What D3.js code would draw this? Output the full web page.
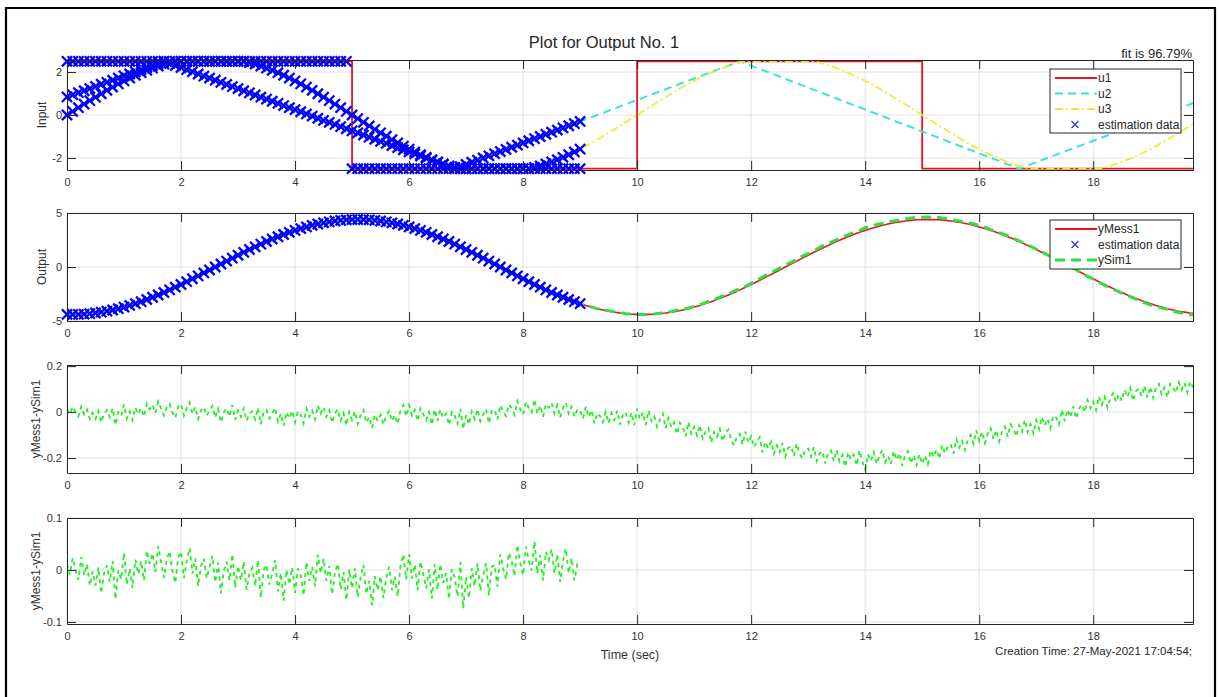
<!DOCTYPE html>
<html>
<head>
<meta charset="utf-8">
<script src="https://cdn.jsdelivr.net/npm/d3@7"></script>
<style>
  body { margin: 0; background: #fff; }
  svg text { font-family: "Liberation Sans", Arial, Helvetica, sans-serif; }
  .axis path, .axis line { stroke: #262626; }
  .axis text { fill: #333; font-size: 11px; font-family: "Liberation Sans", Arial, sans-serif; }
</style>
</head>
<body>
<div id="chart"></div>
<script>
// ---- data ----
// signals sampled every 0.1 s, residual every 0.05 s
var dt = 0.1;
var dtRes = 0.05;
var estEnd = 9;   // estimation data runs 0..9 s

// u1: square wave, level starts at each time
var u1Times = [0, 5, 10, 15];
var u1Levels = [2.5, -2.5, 2.5, -2.5];

// u2: triangle wave
var u2 = [0.84, 0.94, 1.04, 1.13, 1.23, 1.33, 1.43, 1.52, 1.62, 1.72, 1.82, 1.91, 2.01, 2.11, 2.21, 2.30, 2.40, 2.50,
  2.40, 2.30, 2.21, 2.11, 2.01, 1.91, 1.81, 1.72, 1.62, 1.52, 1.42, 1.32, 1.23, 1.13, 1.03, 0.93, 0.83, 0.74, 0.64, 0.54,
  0.44, 0.34, 0.25, 0.15, 0.05, -0.05, -0.15, -0.25, -0.34, -0.44, -0.54, -0.64, -0.74, -0.83, -0.93, -1.03, -1.13, -1.23,
  -1.32, -1.42, -1.52, -1.62, -1.72, -1.81, -1.91, -2.01, -2.11, -2.21, -2.30, -2.40, -2.50,
  -2.4, -2.3, -2.2, -2.1, -2.0, -1.9, -1.8, -1.7, -1.6, -1.5, -1.4, -1.3, -1.2, -1.1, -1.0, -0.9, -0.8, -0.7, -0.6, -0.5,
  -0.4, -0.3, -0.2, -0.1, 0, 0.1, 0.2, 0.3, 0.4, 0.5, 0.6, 0.7, 0.8, 0.9, 1.0, 1.1, 1.2, 1.3, 1.4, 1.5,
  1.6, 1.7, 1.8, 1.9, 2.0, 2.1, 2.2, 2.3, 2.4, 2.5,
  2.40, 2.30, 2.19, 2.09, 1.99, 1.89, 1.79, 1.68, 1.58, 1.48, 1.38, 1.28, 1.17, 1.07, 0.97, 0.87, 0.77, 0.66, 0.56, 0.46,
  0.36, 0.26, 0.15, 0.05, -0.05, -0.15, -0.26, -0.36, -0.46, -0.56, -0.66, -0.77, -0.87, -0.97, -1.07, -1.17, -1.28, -1.38,
  -1.48, -1.58, -1.68, -1.79, -1.89, -1.99, -2.09, -2.19, -2.30, -2.40, -2.50,
  -2.4, -2.3, -2.2, -2.1, -2.0, -1.9, -1.8, -1.7, -1.6, -1.5, -1.4, -1.3, -1.2, -1.1, -1.0, -0.9, -0.8, -0.7, -0.6, -0.5,
  -0.4, -0.3, -0.2, -0.1, 0, 0.1, 0.2, 0.3, 0.4, 0.5, 0.6];

// u3: sine, flat at +-2.5
var u3 = [0, 0.17, 0.34, 0.51, 0.67, 0.83, 0.99, 1.15, 1.30, 1.45, 1.59, 1.72, 1.85, 1.97, 2.08, 2.18, 2.28, 2.37, 2.44, 2.50,
  2.50, 2.50, 2.50, 2.50, 2.50, 2.50, 2.50, 2.50, 2.50, 2.50, 2.50, 2.50, 2.44, 2.37, 2.28, 2.18, 2.08, 1.97, 1.85, 1.72,
  1.59, 1.45, 1.30, 1.15, 0.99, 0.83, 0.67, 0.51, 0.34, 0.17,
  0, -0.17, -0.34, -0.51, -0.67, -0.83, -0.99, -1.15, -1.30, -1.45, -1.59, -1.72, -1.85, -1.97, -2.08, -2.18, -2.28, -2.37, -2.44, -2.50,
  -2.50, -2.50, -2.50, -2.50, -2.50, -2.50, -2.50, -2.50, -2.50, -2.50, -2.50, -2.50, -2.44, -2.37, -2.28, -2.18, -2.08, -1.97, -1.85, -1.72,
  -1.59, -1.45, -1.30, -1.15, -0.99, -0.83, -0.67, -0.51, -0.34, -0.17,
  0, 0.17, 0.34, 0.51, 0.67, 0.83, 0.99, 1.15, 1.30, 1.45, 1.59, 1.72, 1.85, 1.97, 2.08, 2.18, 2.28, 2.37, 2.44, 2.50,
  2.50, 2.50, 2.50, 2.50, 2.50, 2.50, 2.50, 2.50, 2.50, 2.50, 2.50, 2.50, 2.44, 2.37, 2.28, 2.18, 2.08, 1.97, 1.85, 1.72,
  1.59, 1.45, 1.30, 1.15, 0.99, 0.83, 0.67, 0.51, 0.34, 0.17,
  0, -0.17, -0.34, -0.51, -0.67, -0.83, -0.99, -1.15, -1.30, -1.45, -1.59, -1.72, -1.85, -1.97, -2.08, -2.18, -2.28, -2.37, -2.44, -2.50,
  -2.50, -2.50, -2.50, -2.50, -2.50, -2.50, -2.50, -2.50, -2.50, -2.50, -2.50, -2.50, -2.44, -2.37, -2.28, -2.18, -2.08, -1.97, -1.85, -1.72,
  -1.59, -1.45, -1.30, -1.15, -0.99, -0.83, -0.67, -0.51, -0.34];

// measured output
var yMess1 = [-4.39, -4.40, -4.39, -4.37, -4.32, -4.26, -4.18, -4.09, -3.98, -3.86, -3.71, -3.56, -3.39, -3.21, -3.01, -2.80,
  -2.59, -2.36, -2.12, -1.87, -1.62, -1.36, -1.09, -0.82, -0.55, -0.28, 0, 0.28, 0.55, 0.82, 1.09, 1.36, 1.62, 1.87, 2.12,
  2.36, 2.59, 2.80, 3.01, 3.21, 3.39, 3.56, 3.71, 3.86, 3.98, 4.09, 4.18, 4.26, 4.32, 4.37, 4.39, 4.40, 4.39, 4.37, 4.32,
  4.26, 4.18, 4.09, 3.98, 3.86, 3.71, 3.56, 3.39, 3.21, 3.01, 2.80, 2.59, 2.36, 2.12, 1.87, 1.62, 1.36, 1.09, 0.82, 0.55,
  0.28, 0, -0.28, -0.55, -0.82, -1.09, -1.36, -1.62, -1.87, -2.12, -2.36, -2.59, -2.80, -3.01, -3.21, -3.39, -3.56, -3.71,
  -3.86, -3.98, -4.09, -4.18, -4.26, -4.32, -4.37,
  -4.39, -4.40, -4.39, -4.37, -4.32, -4.26, -4.18, -4.09, -3.98, -3.86, -3.71, -3.56, -3.39, -3.21, -3.01, -2.80,
  -2.59, -2.36, -2.12, -1.87, -1.62, -1.36, -1.09, -0.82, -0.55, -0.28, 0, 0.28, 0.55, 0.82, 1.09, 1.36, 1.62, 1.87, 2.12,
  2.36, 2.59, 2.80, 3.01, 3.21, 3.39, 3.56, 3.71, 3.86, 3.98, 4.09, 4.18, 4.26, 4.32, 4.37, 4.39, 4.40, 4.39, 4.37, 4.32,
  4.26, 4.18, 4.09, 3.98, 3.86, 3.71, 3.56, 3.39, 3.21, 3.01, 2.80, 2.59, 2.36, 2.12, 1.87, 1.62, 1.36, 1.09, 0.82, 0.55,
  0.28, 0, -0.28, -0.55, -0.82, -1.09, -1.36, -1.62, -1.87, -2.12, -2.36, -2.59, -2.80, -3.01, -3.21, -3.39, -3.56, -3.71,
  -3.86, -3.98, -4.09, -4.18, -4.26, -4.32];

// residual yMess1 - ySim1, every 0.05 s
var resid = [0.012, -0.009, 0.023, 0.000, -0.019, 0.025, -0.010, 0.011, -0.030, -0.003,
  -0.030, 0.005, -0.045, -0.007, 0.009, -0.023, 0.017, -0.056, -0.001, -0.018,
  0.033, -0.028, 0.003, -0.035, 0.020, -0.008, 0.017, -0.020, 0.037, 0.012,
  0.032, -0.004, 0.046, 0.015, -0.015, 0.021, 0.036, -0.003, -0.025, 0.024,
  0.035, -0.016, 0.017, 0.042, -0.007, 0.022, -0.031, 0.007, 0.022, -0.016,
  0.005, 0.027, -0.024, 0.014, -0.045, -0.002, 0.016, -0.020, 0.030, -0.034,
  0.008, -0.020, 0.016, -0.038, -0.007, 0.004, -0.031, 0.019, -0.053, 0.000,
  0.010, -0.028, -0.006, 0.019, -0.041, -0.006, -0.059, 0.000, -0.028, 0.005,
  -0.044, 0.003, -0.011, -0.049, 0.015, -0.021, 0.006, -0.031, 0.029, -0.006,
  0.022, -0.021, 0.008, -0.047, -0.005, 0.012, -0.037, -0.004, -0.058, 0.001,
  -0.035, 0.003, -0.052, -0.014, 0.010, -0.046, -0.021, -0.068, -0.012, -0.039,
  -0.012, -0.054, -0.015, 0.006, -0.039, -0.013, -0.051, 0.009, 0.030, -0.018,
  0.030, -0.016, 0.010, -0.039, 0.016, -0.010, -0.035, 0.001, -0.055, 0.011,
  -0.038, 0.011, -0.025, -0.006, -0.056, 0.001, -0.014, -0.051, 0.015, -0.074,
  -0.013, -0.054, 0.003, -0.031, 0.013, -0.040, -0.011, 0.013, -0.049, 0.006,
  0.010, -0.032, 0.030, 0.003, -0.018, 0.033, 0.017, -0.012, 0.048, 0.013,
  -0.010, 0.045, 0.018, -0.001, 0.055, -0.007, 0.028, -0.020, 0.035, 0.019,
  0.040, -0.006, 0.030, -0.023, 0.018, 0.041, -0.006, 0.023, -0.020, 0.011,
  0.008, -0.028, 0.024, -0.021, 0.008, -0.049, -0.004, -0.017, -0.044, 0.001,
  -0.048, -0.004, -0.035, 0.006, -0.054, -0.013, -0.001, -0.046, -0.003, -0.057,
  0.015, -0.031, -0.002, -0.056, 0.007, -0.039, -0.018, -0.064, -0.033, -0.007,
  -0.070, -0.026, -0.067, -0.046, -0.096, -0.046, -0.065, -0.105, -0.043, -0.094,
  -0.065, -0.102, -0.057, -0.116, -0.085, -0.069, -0.133, -0.087, -0.109, -0.073,
  -0.127, -0.090, -0.075, -0.123, -0.145, -0.106, -0.095, -0.141, -0.085, -0.133,
  -0.105, -0.153, -0.128, -0.109, -0.176, -0.130, -0.158, -0.129, -0.182, -0.145,
  -0.175, -0.134, -0.194, -0.156, -0.148, -0.192, -0.137, -0.182, -0.201, -0.162,
  -0.158, -0.194, -0.153, -0.213, -0.180, -0.170, -0.224, -0.179, -0.167, -0.214,
  -0.165, -0.214, -0.187, -0.238, -0.175, -0.206, -0.185, -0.232, -0.167, -0.216,
  -0.250, -0.184, -0.213, -0.174, -0.226, -0.188, -0.165, -0.218, -0.191, -0.226,
  -0.170, -0.208, -0.179, -0.233, -0.189, -0.170, -0.223, -0.188, -0.231, -0.184,
  -0.225, -0.189, -0.226, -0.167, -0.195, -0.163, -0.203, -0.144, -0.179, -0.149,
  -0.140, -0.180, -0.118, -0.155, -0.125, -0.165, -0.122, -0.100, -0.138, -0.080,
  -0.125, -0.086, -0.135, -0.093, -0.070, -0.118, -0.079, -0.128, -0.085, -0.063,
  -0.107, -0.053, -0.072, -0.106, -0.057, -0.085, -0.034, -0.088, -0.053, -0.093,
  -0.035, -0.074, -0.022, -0.058, -0.029, -0.070, -0.016, -0.024, -0.053, 0.010,
  -0.040, 0.010, -0.022, 0.025, -0.028, 0.015, 0.032, 0.000, 0.052, 0.017,
  0.045, 0.009, 0.068, 0.032, 0.066, 0.020, 0.062, 0.083, 0.044, 0.078,
  0.050, 0.097, 0.066, 0.106, 0.048, 0.092, 0.102, 0.069, 0.114, 0.063,
  0.110, 0.062, 0.105, 0.123, 0.078, 0.106, 0.064, 0.123, 0.107, 0.084,
  0.130, 0.097, 0.127, 0.086, 0.133, 0.107];

var xTicks = [0, 2, 4, 6, 8, 10, 12, 14, 16, 18];
var inputTicks = [-2, 0, 2];
var outputTicks = [-5, 0, 5];
var residTicks = [-0.2, 0, 0.2];
var residEstTicks = [-0.1, 0, 0.1];

// ---- layout ----
var W = 1219, H = 697;
var left = 67, right = 1193;
var gridColor = "#e2e2e2";
var blue = "#0000ff";

var panels = [
  {top: 60,  bottom: 170, domain: [-2.56, 2.56],   ticks: inputTicks,    label: "Input",        labelX: 42},
  {top: 213, bottom: 321, domain: [-5, 5],         ticks: outputTicks,   label: "Output",       labelX: 42},
  {top: 365, bottom: 473, domain: [-0.265, 0.205], ticks: residTicks,    label: "yMess1-ySim1", labelX: 36},
  {top: 518, bottom: 624, domain: [-0.104, 0.1],   ticks: residEstTicks, label: "yMess1-ySim1", labelX: 36}
];

var svg = d3.select("#chart").append("svg")
  .attr("width", W)
  .attr("height", H);

svg.append("rect").attr("width", W).attr("height", H).attr("fill", "#fff");

// figure frame (open at the bottom, like the screenshot)
svg.append("path")
  .attr("d", "M6,697 V8 H1215 V697")
  .attr("fill", "none")
  .attr("stroke", "#000")
  .attr("stroke-width", 2.2);

var x = d3.scaleLinear().domain([0, 19.75]).range([left, right]);

var tSig = u2.map((d, i) => i * dt);
var tRes = resid.map((d, i) => i * dtRes);
var ySim1 = yMess1.map((d, i) => d - resid[Math.min(2 * i, resid.length - 1)]);

function u1At(t) {
  return u1Levels[d3.bisectRight(u1Times, t + 1e-9) - 1];
}

// grid + clip for each panel
panels.forEach(function(p, i) {
  p.y = d3.scaleLinear().domain(p.domain).range([p.bottom, p.top]);
  var g = svg.append("g");
  g.selectAll("line.gx").data(xTicks).enter().append("line")
    .attr("x1", d => x(d)).attr("x2", d => x(d))
    .attr("y1", p.top).attr("y2", p.bottom)
    .attr("stroke", gridColor);
  g.selectAll("line.gy").data(p.ticks).enter().append("line")
    .attr("x1", left).attr("x2", right)
    .attr("y1", d => p.y(d)).attr("y2", d => p.y(d))
    .attr("stroke", gridColor);
  svg.append("clipPath").attr("id", "clip" + i)
    .append("rect")
    .attr("x", left).attr("y", p.top)
    .attr("width", right - left).attr("height", p.bottom - p.top);
  p.plot = svg.append("g").attr("clip-path", "url(#clip" + i + ")");
});

// 'x' markers, heavy so the dense samples merge into a band like the original
function xMarkers(g, pts, yScale, s) {
  g.selectAll(null).data(pts).enter().append("path")
    .attr("d", d => {
      var cx = x(d[0]), cy = yScale(d[1]);
      return "M" + (cx - s) + "," + (cy - s) + "L" + (cx + s) + "," + (cy + s) +
             "M" + (cx - s) + "," + (cy + s) + "L" + (cx + s) + "," + (cy - s);
    })
    .attr("stroke", blue)
    .attr("stroke-width", 2.3)
    .attr("fill", "none");
}

// ---- panel 1: inputs ----
var p1 = panels[0];
var u1Pts = u1Times.map((t, i) => [t, u1Levels[i]]).concat([[19.75, u1Levels[u1Levels.length - 1]]]);
p1.plot.append("path")
  .datum(u1Pts)
  .attr("fill", "none")
  .attr("stroke", "#e8141c")
  .attr("stroke-width", 1.8)
  .attr("d", d3.line().curve(d3.curveStepAfter).x(d => x(d[0])).y(d => p1.y(d[1])));

p1.plot.append("path")
  .datum(u2)
  .attr("fill", "none")
  .attr("stroke", "#3fe0e0")
  .attr("stroke-width", 2)
  .attr("stroke-dasharray", "8,5")
  .attr("d", d3.line().x((d, i) => x(tSig[i])).y(d => p1.y(d)));

p1.plot.append("path")
  .datum(u3)
  .attr("fill", "none")
  .attr("stroke", "#f2ea3a")
  .attr("stroke-width", 1.8)
  .attr("stroke-dasharray", "8,3,2,3")
  .attr("d", d3.line().x((d, i) => x(tSig[i])).y(d => p1.y(d)));

var estIdx = tSig.map((t, i) => i).filter(i => tSig[i] <= estEnd + 1e-9);
var p1Marks = svg.append("g");
xMarkers(p1Marks, estIdx.map(i => [tSig[i], u1At(tSig[i])]), p1.y, 5.1);
xMarkers(p1Marks, estIdx.map(i => [tSig[i], u2[i]]), p1.y, 5.1);
xMarkers(p1Marks, estIdx.map(i => [tSig[i], u3[i]]), p1.y, 5.1);

// ---- panel 2: output ----
var p2 = panels[1];
p2.plot.append("path")
  .datum(yMess1)
  .attr("fill", "none")
  .attr("stroke", "#e8141c")
  .attr("stroke-width", 1.6)
  .attr("d", d3.line().x((d, i) => x(tSig[i])).y(d => p2.y(d)));

var p2Marks = svg.append("g");
xMarkers(p2Marks, estIdx.map(i => [tSig[i], yMess1[i]]), p2.y, 5.1);

p2.plot.append("path")
  .datum(ySim1)
  .attr("fill", "none")
  .attr("stroke", "#33dd44")
  .attr("stroke-width", 3)
  .attr("stroke-dasharray", "10,6")
  .attr("d", d3.line().x((d, i) => x(tSig[i])).y(d => p2.y(d)));

// ---- panel 3: residual, whole record ----
var p3 = panels[2];
p3.plot.append("path")
  .datum(resid)
  .attr("fill", "none")
  .attr("stroke", "#22ee22")
  .attr("stroke-width", 1.8)
  .attr("stroke-dasharray", "4,4")
  .attr("d", d3.line().x((d, i) => x(tRes[i])).y(d => p3.y(d)));

// ---- panel 4: residual, estimation data only ----
var p4 = panels[3];
var residEst = resid.filter((d, i) => tRes[i] <= estEnd + 1e-9);
p4.plot.append("path")
  .datum(residEst)
  .attr("fill", "none")
  .attr("stroke", "#22ee22")
  .attr("stroke-width", 1.8)
  .attr("stroke-dasharray", "4,4")
  .attr("d", d3.line().x((d, i) => x(tRes[i])).y(d => p4.y(d)));

// ---- axes boxes, ticks on all four sides ----
panels.forEach(function(p) {
  svg.append("g").attr("class", "axis")
    .attr("transform", "translate(0," + p.bottom + ")")
    .call(d3.axisBottom(x).tickValues(xTicks).tickSizeInner(-9).tickSizeOuter(0).tickPadding(8).tickFormat(d => String(d)));
  svg.append("g").attr("class", "axis")
    .attr("transform", "translate(0," + p.top + ")")
    .call(d3.axisTop(x).tickValues(xTicks).tickSizeInner(-9).tickSizeOuter(0).tickFormat(""));
  svg.append("g").attr("class", "axis")
    .attr("transform", "translate(" + left + ",0)")
    .call(d3.axisLeft(p.y).tickValues(p.ticks).tickSizeInner(-9).tickSizeOuter(0).tickPadding(5).tickFormat(d => String(d)));
  svg.append("g").attr("class", "axis")
    .attr("transform", "translate(" + right + ",0)")
    .call(d3.axisRight(p.y).tickValues(p.ticks).tickSizeInner(-9).tickSizeOuter(0).tickFormat(""));

  // y label
  svg.append("text")
    .attr("transform", "translate(" + p.labelX + "," + ((p.top + p.bottom) / 2) + ") rotate(-90)")
    .attr("text-anchor", "middle")
    .attr("dy", "0.35em")
    .style("font-size", "12px")
    .style("fill", "#333")
    .text(p.label);
});

// ---- legends ----
function legend(x0, y0, w, h, rows) {
  var g = svg.append("g");
  g.append("rect")
    .attr("x", x0).attr("y", y0).attr("width", w).attr("height", h)
    .attr("fill", "#fff").attr("stroke", "#262626").attr("stroke-width", 1);
  rows.forEach(function(r, i) {
    var cy = y0 + 9 + i * 15.5;
    if (r.marker) {
      var cx = x0 + 25, s = 3.5;
      g.append("path")
        .attr("d", "M" + (cx - s) + "," + (cy - s) + "L" + (cx + s) + "," + (cy + s) +
                   "M" + (cx - s) + "," + (cy + s) + "L" + (cx + s) + "," + (cy - s))
        .attr("stroke", "#2a2ad8").attr("stroke-width", 1.1).attr("fill", "none");
    } else {
      g.append("line")
        .attr("x1", x0 + 5).attr("x2", x0 + 47).attr("y1", cy).attr("y2", cy)
        .attr("stroke", r.color).attr("stroke-width", r.width)
        .attr("stroke-dasharray", r.dash || null);
    }
    g.append("text")
      .attr("x", x0 + 48).attr("y", cy).attr("dy", "0.35em")
      .style("font-size", "12px").style("fill", "#262626")
      .text(r.name);
  });
}

legend(1050, 69, 131, 64, [
  {name: "u1", color: "#e8141c", width: 2.2},
  {name: "u2", color: "#3fe0e0", width: 2, dash: "8,5"},
  {name: "u3", color: "#f2ea3a", width: 1.8, dash: "8,3,2,3"},
  {name: "estimation data", marker: true}
]);

legend(1050, 220, 131, 49, [
  {name: "yMess1", color: "#e8141c", width: 2.2},
  {name: "estimation data", marker: true},
  {name: "ySim1", color: "#33dd44", width: 3, dash: "10,6"}
]);

// ---- texts ----
svg.append("text")
  .attr("x", 604).attr("y", 48)
  .attr("text-anchor", "middle")
  .style("font-size", "16.5px").style("fill", "#262626")
  .text("Plot for Output No. 1");

svg.append("text")
  .attr("x", 1192).attr("y", 58)
  .attr("text-anchor", "end")
  .style("font-size", "13px").style("fill", "#262626")
  .text("fit is 96.79%");

svg.append("text")
  .attr("x", (left + right) / 2).attr("y", 659)
  .attr("text-anchor", "middle")
  .style("font-size", "12.5px").style("fill", "#333")
  .text("Time (sec)");

svg.append("text")
  .attr("x", 1192).attr("y", 655)
  .attr("text-anchor", "end")
  .style("font-size", "11.5px").style("fill", "#262626")
  .text("Creation Time: 27-May-2021 17:04:54;");
</script>
</body>
</html>
